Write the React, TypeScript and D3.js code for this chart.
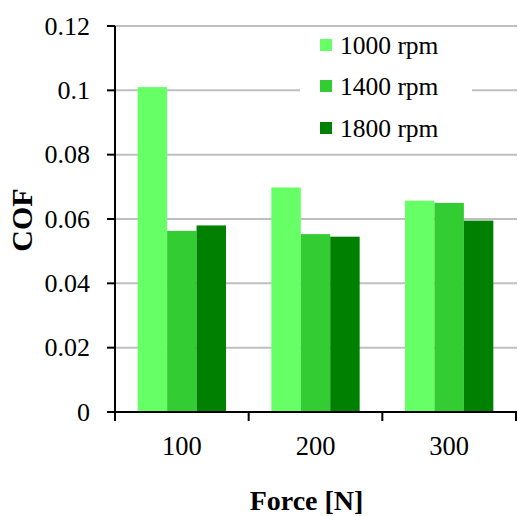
import React from "react";
import * as d3 from "d3";

const categories = ["100", "200", "300"];
const seriesNames = ["1000 rpm", "1400 rpm", "1800 rpm"];
const values1000 = [0.101, 0.0698, 0.0657];
const values1400 = [0.0563, 0.0553, 0.065];
const values1800 = [0.058, 0.0545, 0.0595];
const yTicks = [0, 0.02, 0.04, 0.06, 0.08, 0.1, 0.12];
const colors = ["#66ff66", "#33cc33", "#008000"];

export default function App() {
  const W = 518, H = 516;
  const left = 115, right = 516, top = 26, bottom = 412;
  const series = [values1000, values1400, values1800];
  const x = d3.scaleBand<string>().domain(categories).range([left, right]).paddingInner(0).paddingOuter(0);
  const inner = d3.scaleBand<string>().domain(seriesNames).range([0, x.bandwidth()]).paddingOuter(0.77).paddingInner(0);
  const y = d3.scaleLinear().domain([0, 0.12]).range([bottom, top]);
  const font = "Liberation Serif, Times New Roman, Times, serif";
  const fmt = (v: number) => (v === 0 ? "0" : String(+v.toFixed(2)));
  const legendY = [45, 86, 128];
  return (
    <svg width={W} height={H} style={{ position: "absolute", left: 0, top: 0, background: "#fff", fontFamily: font }}>
      {yTicks.filter((t) => t > 0).map((t) => (
        <line key={t} x1={left} x2={right + 1} y1={y(t)} y2={y(t)} stroke="#bfbfbf" strokeWidth={2} />
      ))}
      {categories.map((c, i) =>
        series.map((s, j) => (
          <rect key={c + j} x={x(c)! + inner(seriesNames[j])!} width={inner.bandwidth()} y={y(s[i])} height={bottom - y(s[i])} fill={colors[j]} />
        ))
      )}
      <rect x={300} y={30} width={172} height={118} fill="#fff" />
      {seriesNames.map((n, j) => (
        <g key={n}>
          <rect x={320} y={legendY[j] - 6} width={12} height={12} fill={colors[j]} />
          <text x={340} y={legendY[j]} dominantBaseline="central" fontSize={25.5} fill="#000">{n}</text>
        </g>
      ))}
      <line x1={left} x2={left} y1={top} y2={bottom} stroke="#000" strokeWidth={2} />
      {yTicks.map((t) => (
        <g key={t}>
          <line x1={107} x2={left} y1={y(t)} y2={y(t)} stroke="#000" strokeWidth={2} />
          <text x={90} y={y(t) + 8.5} textAnchor="end" fontSize={26}>{fmt(t)}</text>
        </g>
      ))}
      <line x1={107} x2={right + 1} y1={bottom} y2={bottom} stroke="#000" strokeWidth={2} />
      {[...categories.map((c) => x(c)!), right].map((p, i) => (
        <line key={i} x1={p} x2={p} y1={bottom} y2={421} stroke="#000" strokeWidth={2} />
      ))}
      {categories.map((c) => (
        <text key={c} x={x(c)! + x.bandwidth() / 2} y={455} textAnchor="middle" fontSize={26.5}>{c}</text>
      ))}
      <text x={306.5} y={510} textAnchor="middle" fontSize={28} fontWeight="bold">Force [N]</text>
      <text transform={`translate(32,220) rotate(-90)`} textAnchor="middle" fontSize={30} fontWeight="bold">COF</text>
    </svg>
  );
}
